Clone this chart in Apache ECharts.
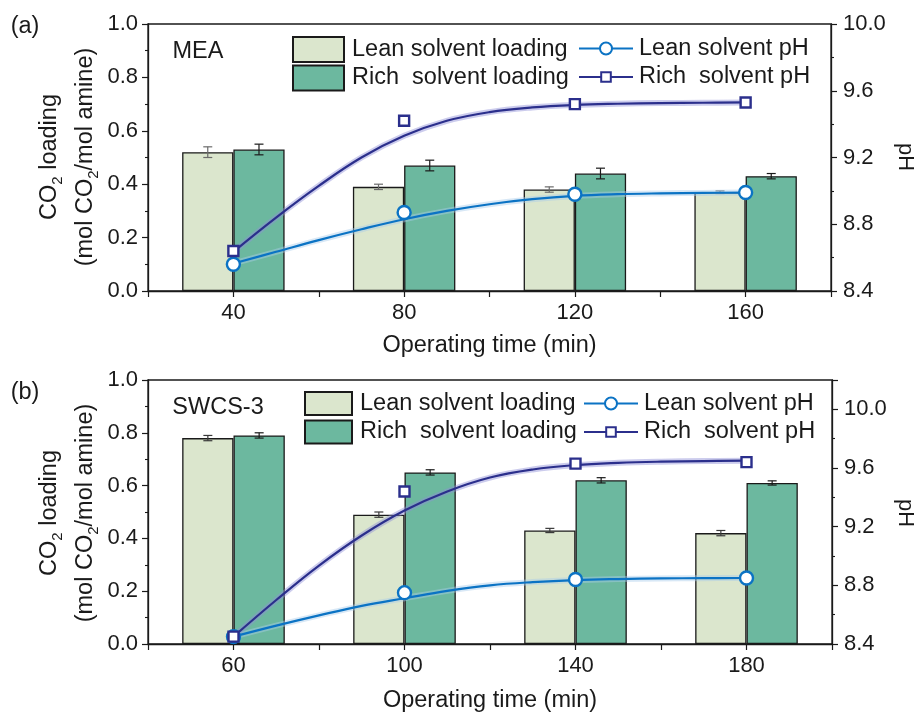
<!DOCTYPE html>
<html>
<head>
<meta charset="utf-8">
<script src="https://cdn.jsdelivr.net/npm/echarts@6/dist/echarts.min.js"></script>
<style>
  html, body { margin: 0; padding: 0; background: #fff; }
  #chart { width: 919px; height: 714px; }
</style>
</head>
<body>
<div id="chart"></div>
<script>
// Operating times (min) sampled in each run
const timesA = ['40', '80', '120', '160'];
const timesB = ['60', '100', '140', '180'];

// CO2 loading (mol CO2/mol amine) with standard deviations — MEA
const leanLoadA = [0.52, 0.39, 0.38, 0.37];
const leanErrA  = [0.02, 0.01, 0.01, 0.005];
const richLoadA = [0.53, 0.47, 0.44, 0.43];
const richErrA  = [0.02, 0.02, 0.02, 0.01];

// CO2 loading — SWCS-3
const leanLoadB = [0.78, 0.49, 0.43, 0.42];
const leanErrB  = [0.01, 0.01, 0.008, 0.01];
const richLoadB = [0.79, 0.65, 0.62, 0.61];
const richErrB  = [0.01, 0.01, 0.01, 0.008];

// Measured pH
const leanPhA = [8.56, 8.87, 8.98, 8.99];
const richPhA = [8.64, 9.42, 9.52, 9.53];
const leanPhB = [8.45, 8.75, 8.84, 8.85];
const richPhB = [8.45, 9.44, 9.63, 9.64];

// Fitted pH curves
const fitTimesA = [40, 50, 60, 70, 80, 90, 100, 110, 120, 130, 140, 150, 160];
const leanFitA  = [8.565, 8.635, 8.705, 8.77, 8.83, 8.88, 8.92, 8.95, 8.97, 8.98, 8.985, 8.988, 8.99];
const richFitA  = [8.635, 8.84, 9.03, 9.20, 9.33, 9.42, 9.472, 9.50, 9.515, 9.522, 9.526, 9.528, 9.53];
const fitTimesB = [60, 70, 80, 90, 100, 110, 120, 130, 140, 150, 160, 170, 180];
const leanFitB  = [8.45, 8.525, 8.595, 8.66, 8.712, 8.762, 8.80, 8.822, 8.836, 8.843, 8.847, 8.849, 8.85];
const richFitB  = [8.45, 8.70, 8.935, 9.14, 9.31, 9.44, 9.535, 9.59, 9.62, 9.635, 9.643, 9.647, 9.65];

const LEAN_LOAD = 'Lean solvent loading';
const RICH_LOAD = 'Rich  solvent loading';
const LEAN_PH = 'Lean solvent pH';
const RICH_PH = 'Rich  solvent pH';

const FONT = '"Liberation Sans", Arial, Helvetica, sans-serif';
const INK = '#1a1a1a';
const LEAN_FILL = '#dbe6cd';
const RICH_FILL = '#6cb89f';
const LEAN_LINE = '#0b73c4';
const RICH_LINE = '#2b2f8c';
const BAR_FRAC = 0.30;
const SMOOTH = 0.4;

const chart = echarts.init(document.getElementById('chart'), null, { renderer: 'canvas' });

function leftAxis(gridIndex) {
  return {
    type: 'value', gridIndex, position: 'left', min: 0, max: 1, interval: 0.2,
    axisLine: { show: true, lineStyle: { color: INK, width: 1.3 } },
    axisTick: { show: true, length: 6, lineStyle: { color: INK, width: 1.2 } },
    minorTick: { show: true, splitNumber: 2, length: 3, lineStyle: { color: INK, width: 1.1 } },
    splitLine: { show: false },
    axisLabel: { fontSize: 22, fontFamily: FONT, color: INK, margin: 10, formatter: v => v.toFixed(1) }
  };
}
function rightAxis(gridIndex, max) {
  return {
    type: 'value', gridIndex, position: 'right', min: 8.4, max, interval: 0.4,
    axisLine: { show: true, lineStyle: { color: INK, width: 1.3 } },
    axisTick: { show: true, length: 6, lineStyle: { color: INK, width: 1.2 } },
    minorTick: { show: true, splitNumber: 2, length: 3, lineStyle: { color: INK, width: 1.1 } },
    splitLine: { show: false },
    axisLabel: {
      fontSize: 22, fontFamily: FONT, color: INK, margin: 12, showMaxLabel: max === 10,
      formatter: v => v.toFixed(1)
    }
  };
}
function catAxis(gridIndex, data, nameGap) {
  return {
    type: 'category', gridIndex, data, position: 'bottom',
    axisLine: { show: true, lineStyle: { color: INK, width: 1.3 } },
    axisTick: { show: false },
    axisLabel: { fontSize: 22, fontFamily: FONT, color: INK, margin: 11 },
    name: 'Operating time (min)', nameLocation: 'middle', nameGap,
    nameTextStyle: { fontSize: 23.5, fontFamily: FONT, color: INK }
  };
}
function timeAxis(gridIndex, min, max) {
  return {
    type: 'value', gridIndex, position: 'bottom', min, max, interval: 20,
    axisLine: { show: false },
    axisTick: { show: true, length: 6, lineStyle: { color: INK, width: 1.2 } },
    axisLabel: { show: false },
    splitLine: { show: false }
  };
}

function barSeries(name, xIdx, yIdx, data, color) {
  return {
    name, type: 'bar', xAxisIndex: xIdx, yAxisIndex: yIdx, data,
    barWidth: (BAR_FRAC * 100) + '%', barGap: '0%', z: 2,
    itemStyle: { color, borderColor: INK, borderWidth: 1.3 }
  };
}
function errorSeries(xIdx, yIdx, vals, errs, side, color) {
  return {
    type: 'custom', xAxisIndex: xIdx, yAxisIndex: yIdx, z: 3, silent: true,
    data: vals.map((v, i) => [i, v, errs[i]]),
    renderItem(params, api) {
      const i = api.value(0), v = api.value(1), e = api.value(2);
      const band = api.size([1, 0])[0];
      const hi = api.coord([i, v + e]);
      const lo = api.coord([i, v - e]);
      const x = hi[0] + side * band * BAR_FRAC / 2;
      const cap = 4.5;
      const style = { stroke: color, lineWidth: 1.2 };
      return {
        type: 'group',
        children: [
          { type: 'line', shape: { x1: x, y1: hi[1], x2: x, y2: lo[1] }, style },
          { type: 'line', shape: { x1: x - cap, y1: hi[1], x2: x + cap, y2: hi[1] }, style },
          { type: 'line', shape: { x1: x - cap, y1: lo[1], x2: x + cap, y2: lo[1] }, style }
        ]
      };
    }
  };
}
function pairs(xs, ys) { return xs.map((x, i) => [Number(x), ys[i]]); }

function haloSeries(xIdx, yIdx, xs, ys, color) {
  return {
    type: 'line', xAxisIndex: xIdx, yAxisIndex: yIdx, data: pairs(xs, ys),
    smooth: SMOOTH, showSymbol: false, symbol: 'none', silent: true, z: 4,
    lineStyle: { color, width: 6, opacity: 0.45 }
  };
}
function fitSeries(name, xIdx, yIdx, xs, ys, color, symbol) {
  return {
    name, type: 'line', xAxisIndex: xIdx, yAxisIndex: yIdx, data: pairs(xs, ys),
    smooth: SMOOTH, showSymbol: false, symbol, symbolSize: 12, z: 5,
    itemStyle: { color }, lineStyle: { color, width: 2.2 }
  };
}
function pointSeries(name, xIdx, yIdx, xs, ys, color, symbol, size) {
  return {
    name, type: 'scatter', xAxisIndex: xIdx, yAxisIndex: yIdx, data: pairs(xs, ys),
    symbol, symbolSize: size, z: 6,
    itemStyle: { color: '#ffffff', borderColor: color, borderWidth: 2.4, opacity: 1 }
  };
}

// one legend entry per block so each row can be placed and sized on its own
function legend(left, top, name, w, h, icon, pad) {
  const entry = icon ? { name, icon } : { name };
  return {
    left, top, orient: 'vertical', itemWidth: w, itemHeight: h,
    selectedMode: false, data: [entry], padding: 0,
    textStyle: { fontSize: 23.5, fontFamily: FONT, color: INK, lineHeight: 25, padding: [0, 0, 0, pad] }
  };
}

function text(x, y, str, size, rotation) {
  return {
    type: 'text', x, y, rotation: rotation || 0, silent: true,
    style: { text: str, fontSize: size, fontFamily: FONT, fill: INK, align: 'center', verticalAlign: 'middle' }
  };
}
function subText(x, y, str) {
  return {
    type: 'text', x, y, rotation: Math.PI / 2, silent: true,
    style: {
      text: str, align: 'center', verticalAlign: 'middle', fill: INK,
      rich: {
        n: { fontSize: 23.5, fontFamily: FONT, color: INK, lineHeight: 30, verticalAlign: 'middle' },
        s: { fontSize: 15, fontFamily: FONT, color: INK, lineHeight: 15, verticalAlign: 'bottom' }
      }
    }
  };
}

const option = {
  backgroundColor: '#ffffff',
  animation: false,
  grid: [
    { left: 148, top: 24, width: 683, height: 267, show: true, borderColor: INK, borderWidth: 1.3, backgroundColor: 'transparent' },
    { left: 148, top: 380, width: 684, height: 267, show: true, borderColor: INK, borderWidth: 1.3, backgroundColor: 'transparent' }
  ],
  xAxis: [
    catAxis(0, timesA, 43),
    timeAxis(0, 20, 180),
    catAxis(1, timesB, 45),
    timeAxis(1, 40, 200)
  ],
  yAxis: [
    leftAxis(0),
    rightAxis(0, 10),
    leftAxis(1),
    rightAxis(1, 10.2)
  ],
  legend: [
    legend(292, 36, LEAN_LOAD, 51, 25, 'rect', 3),
    legend(292, 64.5, RICH_LOAD, 51, 25, 'rect', 3),
    legend(578, 36, LEAN_PH, 54, 15, null, 1),
    legend(578, 64.5, RICH_PH, 54, 12, null, 1),
    legend(304, 391, LEAN_LOAD, 47, 23, 'rect', 3),
    legend(304, 419.5, RICH_LOAD, 47, 23, 'rect', 3),
    legend(583, 391, LEAN_PH, 54, 15, null, 1),
    legend(583, 419.5, RICH_PH, 54, 12, null, 1)
  ],
  graphic: [
    text(25, 27, '(a)', 23.5),
    text(198, 52, 'MEA', 23.5),
    text(25, 393, '(b)', 23.5),
    text(218, 408, 'SWCS-3', 23.5),
    subText(50, 157, '{n|CO}{s|2}{n| loading}'),
    subText(86, 157, '{n|(mol CO}{s|2}{n|/mol amine)}'),
    subText(50, 513, '{n|CO}{s|2}{n| loading}'),
    subText(86, 513, '{n|(mol CO}{s|2}{n|/mol amine)}'),
    text(905, 157, 'pH', 22, -Math.PI / 2),
    text(905, 513, 'pH', 22, -Math.PI / 2)
  ],
  series: [
    // MEA
    barSeries(LEAN_LOAD, 0, 0, leanLoadA, LEAN_FILL),
    barSeries(RICH_LOAD, 0, 0, richLoadA, RICH_FILL),
    errorSeries(0, 0, leanLoadA, leanErrA, -1, '#6b6b6b'),
    errorSeries(0, 0, richLoadA, richErrA, 1, INK),
    haloSeries(1, 1, fitTimesA, leanFitA, '#a9cbec'),
    haloSeries(1, 1, fitTimesA, richFitA, '#8f8fd6'),
    fitSeries(LEAN_PH, 1, 1, fitTimesA, leanFitA, LEAN_LINE, 'emptyCircle'),
    fitSeries(RICH_PH, 1, 1, fitTimesA, richFitA, RICH_LINE, 'emptyRect'),
    pointSeries(LEAN_PH, 1, 1, timesA, leanPhA, LEAN_LINE, 'circle', 13),
    pointSeries(RICH_PH, 1, 1, timesA, richPhA, RICH_LINE, 'rect', 10),
    // SWCS-3
    barSeries(LEAN_LOAD, 2, 2, leanLoadB, LEAN_FILL),
    barSeries(RICH_LOAD, 2, 2, richLoadB, RICH_FILL),
    errorSeries(2, 2, leanLoadB, leanErrB, -1, '#3a3a3a'),
    errorSeries(2, 2, richLoadB, richErrB, 1, INK),
    haloSeries(3, 3, fitTimesB, leanFitB, '#a9cbec'),
    haloSeries(3, 3, fitTimesB, richFitB, '#8f8fd6'),
    fitSeries(LEAN_PH, 3, 3, fitTimesB, leanFitB, LEAN_LINE, 'emptyCircle'),
    fitSeries(RICH_PH, 3, 3, fitTimesB, richFitB, RICH_LINE, 'emptyRect'),
    pointSeries(LEAN_PH, 3, 3, timesB, leanPhB, LEAN_LINE, 'circle', 13),
    pointSeries(RICH_PH, 3, 3, timesB, richPhB, RICH_LINE, 'rect', 10)
  ]
};

chart.setOption(option);
</script>
</body>
</html>
